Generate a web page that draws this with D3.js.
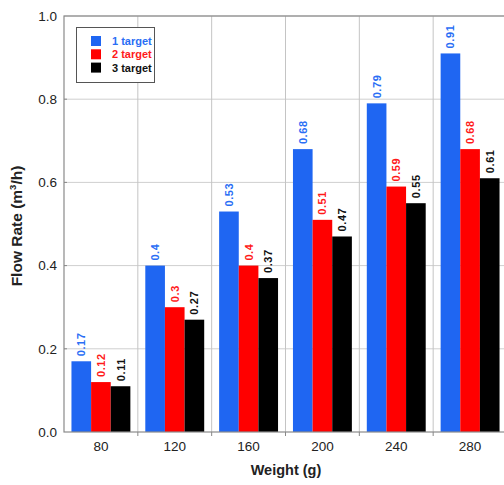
<!DOCTYPE html>
<html>
<head>
<meta charset="utf-8">
<script src="https://cdn.jsdelivr.net/npm/d3@7"></script>
<style>
  html, body { margin: 0; padding: 0; background: #fff; }
  svg { display: block; font-family: "Liberation Sans", Arial, sans-serif; }
</style>
</head>
<body>
<svg id="chart" width="504" height="485"></svg>
<script>
// Weight categories and flow rate per number of targets
const weights = ["80", "120", "160", "200", "240", "280"];
const seriesNames = ["1 target", "2 target", "3 target"];
const oneTarget = [0.17, 0.4, 0.53, 0.68, 0.79, 0.91];
const twoTarget = [0.12, 0.3, 0.4, 0.51, 0.59, 0.68];
const threeTarget = [0.11, 0.27, 0.37, 0.47, 0.55, 0.61];
const yTicks = [0, 0.2, 0.4, 0.6, 0.8, 1.0];

const seriesValues = [oneTarget, twoTarget, threeTarget];
const colors = ["#1f66f2", "#ff0000", "#000000"];
const labelColors = ["#2a6ef5", "#ff1a1a", "#111111"];

const svg = d3.select("#chart");
const plotL = 64, plotR = 507, plotT = 16, plotB = 432;

const x = d3.scaleBand().domain(weights).range([plotL, plotR]).paddingInner(0).paddingOuter(0);
const xs = d3.scaleBand().domain(seriesNames).range([0, x.bandwidth()]).paddingInner(0).paddingOuter(0.38);
const y = d3.scaleLinear().domain([0, 1]).range([plotB, plotT]);

// horizontal gridlines
svg.append("g").selectAll("line").data(yTicks.slice(1)).join("line")
  .attr("x1", plotL).attr("x2", plotR)
  .attr("y1", d => y(d)).attr("y2", d => y(d))
  .attr("stroke", "#cfcfcf").attr("stroke-width", 1);

// vertical gridlines at category boundaries
svg.append("g").selectAll("line").data(weights.slice(1)).join("line")
  .attr("x1", d => x(d)).attr("x2", d => x(d))
  .attr("y1", plotT).attr("y2", plotB)
  .attr("stroke", "#c4c4c4").attr("stroke-width", 1);

// bars with rotated value labels
const groups = svg.append("g").selectAll("g").data(weights).join("g")
  .attr("transform", d => `translate(${x(d)},0)`);

groups.each(function(w, i) {
  const g = d3.select(this);
  seriesNames.forEach((s, k) => {
    const v = seriesValues[k][i];
    g.append("rect")
      .attr("x", xs(s)).attr("width", xs.bandwidth())
      .attr("y", y(v)).attr("height", y(0) - y(v))
      .attr("fill", colors[k]);
    const cx = xs(s) + xs.bandwidth() / 2 + 4;
    g.append("text")
      .attr("transform", `translate(${cx},${y(v) - 5}) rotate(-90)`)
      .attr("font-size", 11).attr("font-weight", "bold")
      .attr("fill", labelColors[k])
      .attr("letter-spacing", 0.6)
      .text(v);
  });
});

// frame
svg.append("rect").attr("x", plotL).attr("y", plotT)
  .attr("width", plotR - plotL).attr("height", plotB - plotT)
  .attr("fill", "none").attr("stroke", "#8a8a8a").attr("stroke-width", 1.2);

// y axis
const yAxis = d3.axisLeft(y).tickValues(yTicks).tickFormat(d3.format(".1f")).tickSize(0).tickPadding(7);
const yg = svg.append("g").attr("transform", `translate(${plotL},0)`).call(yAxis);
yg.select(".domain").remove();
yg.selectAll("text").attr("font-size", 13.5).attr("fill", "#222").attr("font-family", "Liberation Sans, Arial, sans-serif");
// small inward ticks
svg.append("g").selectAll("line").data(yTicks.slice(1, -1)).join("line")
  .attr("x1", plotL).attr("x2", plotL + 3)
  .attr("y1", d => y(d)).attr("y2", d => y(d))
  .attr("stroke", "#888");

// x axis
const xAxis = d3.axisBottom(x).tickSize(0).tickPadding(9);
const xg = svg.append("g").attr("transform", `translate(0,${plotB})`).call(xAxis);
xg.select(".domain").remove();
xg.selectAll("text").attr("font-size", 13.5).attr("fill", "#222").attr("font-family", "Liberation Sans, Arial, sans-serif");
svg.append("g").selectAll("line").data(weights.slice(1)).join("line")
  .attr("x1", d => x(d)).attr("x2", d => x(d))
  .attr("y1", plotB).attr("y2", plotB + 4)
  .attr("stroke", "#888");

// axis titles
svg.append("text")
  .attr("x", 286).attr("y", 475).attr("text-anchor", "middle")
  .attr("font-size", 14.5).attr("font-weight", "bold").attr("fill", "#222")
  .text("Weight (g)");

const yt = svg.append("text")
  .attr("transform", `translate(22,${(plotT + plotB) / 2 + 2}) rotate(-90)`)
  .attr("text-anchor", "middle")
  .attr("font-size", 15.5).attr("font-weight", "bold").attr("fill", "#222");
yt.append("tspan").text("Flow Rate (m");
yt.append("tspan").attr("font-size", 9.5).attr("dy", -6).text("3");
yt.append("tspan").attr("dy", 6).text("/h)");

// legend
const lg = svg.append("g");
lg.append("rect").attr("x", 76.5).attr("y", 27.5).attr("width", 78).attr("height", 55)
  .attr("fill", "#fff").attr("stroke", "#555").attr("stroke-width", 1);
seriesNames.forEach((s, k) => {
  const cy = 41 + k * 13.3;
  lg.append("rect").attr("x", 91).attr("y", cy - 5).attr("width", 10).attr("height", 10).attr("fill", colors[k]);
  lg.append("text").attr("x", 112).attr("y", cy + 4)
    .attr("font-size", 11).attr("font-weight", "bold").attr("fill", labelColors[k])
    .text(s);
});
</script>
</body>
</html>
